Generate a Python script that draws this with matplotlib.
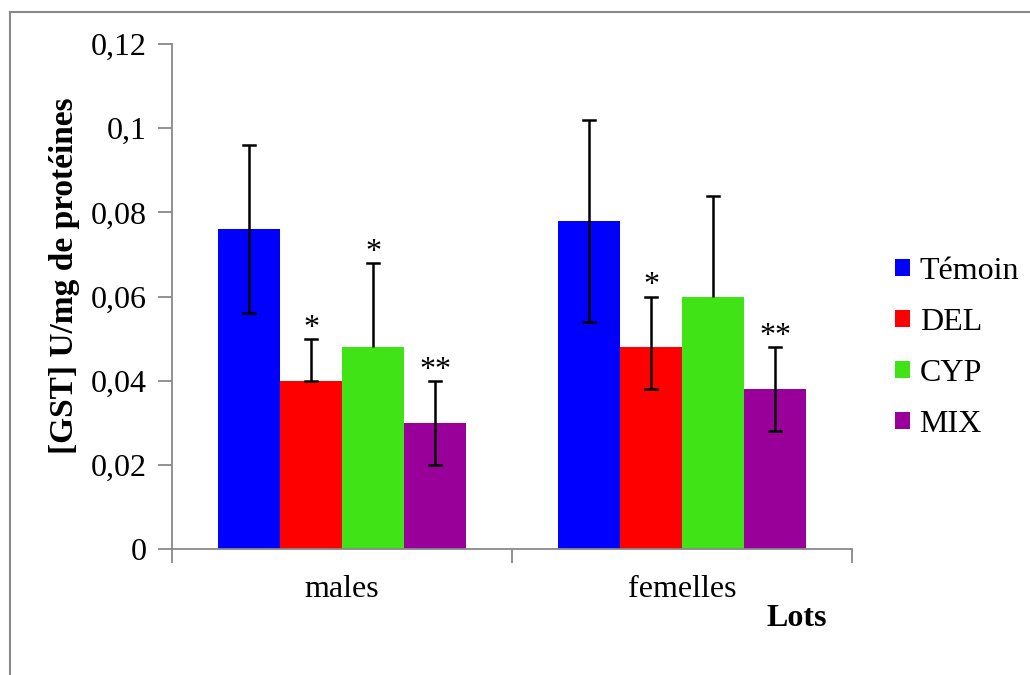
import matplotlib
matplotlib.use("Agg")
import matplotlib.pyplot as plt
from matplotlib.lines import Line2D
from matplotlib.patches import Patch
import numpy as np

plt.rcParams['font.family'] = ['Liberation Serif', 'DejaVu Serif']

groups = ["males", "femelles"]
series = ["Témoin", "DEL", "CYP", "MIX"]
colors = ["#0000FF", "#FF0000", "#3FE316", "#990099"]
values = {
    "Témoin": [0.076, 0.078],
    "DEL":    [0.040, 0.048],
    "CYP":    [0.048, 0.060],
    "MIX":    [0.030, 0.038],
}
err_plus = {
    "Témoin": [0.020, 0.024],
    "DEL":    [0.010, 0.012],
    "CYP":    [0.020, 0.024],
    "MIX":    [0.010, 0.010],
}
err_minus = {
    "Témoin": [0.020, 0.024],
    "DEL":    [0.000, 0.010],
    "CYP":    [0.000, 0.000],
    "MIX":    [0.010, 0.010],
}
stars = {
    "Témoin": ["", ""],
    "DEL":    ["*", "*"],
    "CYP":    ["*", ""],
    "MIX":    ["**", "**"],
}
yticks = [0, 0.02, 0.04, 0.06, 0.08, 0.1, 0.12]
ytick_labels = ["0", "0,02", "0,04", "0,06", "0,08", "0,1", "0,12"]

FS = 23
fig = plt.figure(figsize=(10.3, 6.75), dpi=100)
ax = fig.add_axes([172/1030, 1-549/675, 680/1030, 505/675])

gray = "#898989"
w = 0.1824
x = np.arange(len(groups)) + 0.5
handles = []
for i, s in enumerate(series):
    xi = x + (i - 1.5) * w
    ax.bar(xi, values[s], width=w, color=colors[i], edgecolor='none', zorder=2)
    v = np.array(values[s])
    ep = np.array(err_plus[s])
    em = np.array(err_minus[s])
    for j in range(len(groups)):
        lo = v[j] - em[j]
        hi = v[j] + ep[j]
        ax.plot([xi[j], xi[j]], [lo, hi], color='black', lw=1.8, zorder=3,
                solid_capstyle='butt')
        ax.plot([xi[j] - 0.018, xi[j] + 0.018], [hi, hi], color='black', lw=1.8, zorder=3)
        if s != "CYP":
            ax.plot([xi[j] - 0.018, xi[j] + 0.018], [lo, lo], color='black', lw=1.8, zorder=3)
        if stars[s][j]:
            ax.text(xi[j], hi + 0.0025, stars[s][j], ha='center', va='center',
                    fontsize=FS, color='black')
    handles.append(Patch(facecolor=colors[i], edgecolor='none', label=s))

ax.set_xlim(0, 2)
ax.set_ylim(0, 0.12)
ax.set_yticks(yticks)
ax.set_yticklabels(ytick_labels, fontsize=FS)
ax.set_xticks([0, 1, 2])
ax.set_xticklabels([])
ax.set_xticks(x, minor=True)
ax.set_xticklabels(groups, minor=True, fontsize=FS)
ax.tick_params(axis='x', which='minor', length=0, pad=19)
ax.tick_params(axis='x', which='major', length=10, color=gray, width=1.3, direction='out')
ax.tick_params(axis='y', length=10, color=gray, width=1.3, direction='out', pad=8.5)

for sp in ['top', 'right']:
    ax.spines[sp].set_visible(False)
for sp in ['left', 'bottom']:
    ax.spines[sp].set_color(gray)
    ax.spines[sp].set_linewidth(1.3)

fig.text(65/1030, 1-276/675, "[GST] U/mg de protéines", rotation=90, ha='center',
         va='center', fontsize=24, fontweight='bold')
fig.text(797/1030, 1-619/675, "Lots", ha='center', va='center', fontsize=FS,
         fontweight='bold')

fig.legend(handles=handles, loc='center left', bbox_to_anchor=(895/1030, 1-348/675),
           frameon=False, fontsize=FS, handlelength=0.47, handleheight=0.47,
           handletextpad=0.3, labelspacing=0.69, borderaxespad=0, borderpad=0)

# outer frame
fig.add_artist(Line2D([10/1030, 10/1030], [0, 1-12/675], color=gray, lw=1.5,
                      transform=fig.transFigure))
fig.add_artist(Line2D([10/1030, 1.0], [1-12/675, 1-12/675], color=gray, lw=1.5,
                      transform=fig.transFigure))

fig.savefig("out.png", dpi=100)
